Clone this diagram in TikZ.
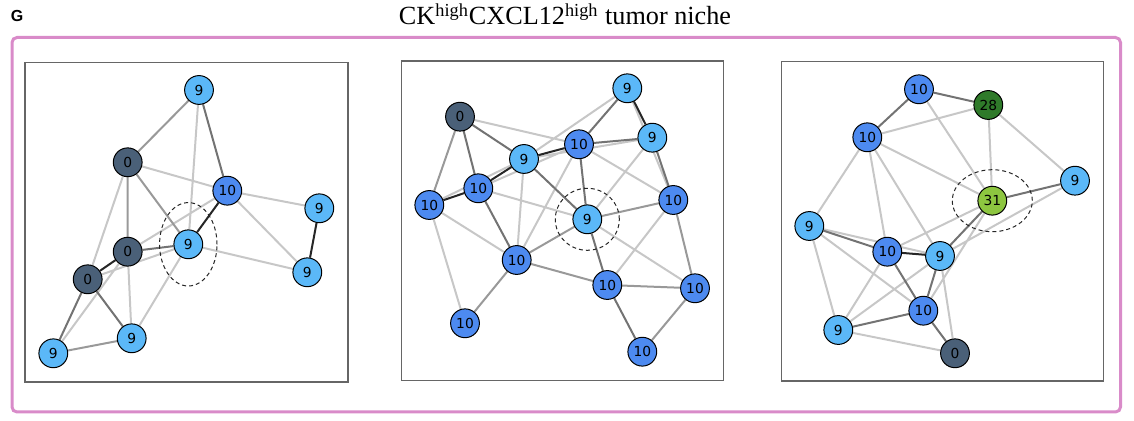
\documentclass[tikz,border=0pt]{standalone}
\usepackage{fontspec}
\setmainfont{Liberation Serif}
\newfontfamily\numfont{DejaVu Sans}
\newfontfamily\letterfont{Liberation Sans}
\usetikzlibrary{backgrounds}

\definecolor{cZero}{HTML}{4A6078}
\definecolor{cNine}{HTML}{5BB8F8}
\definecolor{cTen}{HTML}{4D8AF0}
\definecolor{cTwoEight}{HTML}{2F7A2A}
\definecolor{cThreeOne}{HTML}{8DC640}
\definecolor{frameRose}{HTML}{D98BC9}

\begin{document}
\begin{tikzpicture}[
  x=0.5pt,y=-0.5pt,
  cell/.style={circle,draw=black,line width=0.5pt,minimum size=14.4pt,inner sep=0pt,
    font=\numfont\fontsize{6.9}{7}\selectfont},
  zero/.style={cell,fill=cZero},
  nine/.style={cell,fill=cNine},
  ten/.style={cell,fill=cTen},
  tweight/.style={cell,fill=cTwoEight},
  thone/.style={cell,fill=cThreeOne},
  eA/.style={line width=1pt,draw=black!85},
  eB/.style={line width=1pt,draw=black!55},
  eC/.style={line width=1pt,draw=black!40},
  eD/.style={line width=1pt,draw=black!22},
  ring/.style={draw=black!85,line width=0.5pt,dash pattern=on 2pt off 1.5pt},
  panelbox/.style={draw=black!60,line width=0.55pt},
  frame/.style={draw=frameRose,line width=1.5pt,rounded corners=2.5pt},
  title/.style={font=\fontsize{13.1}{16}\selectfont},
  tag/.style={font=\letterfont\bfseries\fontsize{8}{9}\selectfont}
]
\useasboundingbox (0,0) rectangle (1134,421);

% -------------------------
% Header and frame
% -------------------------
\node[tag] (G) at (17,16) {G};
\node[title,anchor=base] (T) at (565,25) {CK\textsuperscript{high}CXCL12\textsuperscript{high} tumor niche};
\draw[frame] (12,37.5) rectangle (1120.5,412);

\draw[panelbox] (25,62.5) rectangle (348,382);
\draw[panelbox] (401.5,61) rectangle (723.5,380.5);
\draw[panelbox] (781.5,61.5) rectangle (1103.5,381);

% -------------------------
% Panel 1
% -------------------------
\node[nine] (a1) at (199,90) {9};
\node[zero] (a2) at (127.7,162.3) {0};
\node[ten]  (a3) at (227.3,190.7) {10};
\node[nine] (a4) at (319.3,208.3) {9};
\node[nine] (a5) at (188.3,244.3) {9};
\node[zero] (a6) at (127.7,251.7) {0};
\node[zero] (a7) at (87.7,279.3) {0};
\node[nine] (a8) at (307.3,272.3) {9};
\node[nine] (a9) at (131.7,338.3) {9};
\node[nine] (a10) at (53.3,353.3) {9};

\draw[ring] (a5.center) ellipse [x radius=14.35pt, y radius=20.85pt];

\begin{scope}[on background layer]
\draw[eD] (a1) -- (a5) (a2) -- (a3) (a2) -- (a7) (a3) -- (a4) (a3) -- (a8)
  (a3) -- (a6) (a5) -- (a7) (a5) -- (a8) (a5) -- (a9) (a10) -- (a6) (a6) -- (a9);
\draw[eC] (a1) -- (a2) (a2) -- (a5) (a2) -- (a6) (a10) -- (a9);
\draw[eB] (a1) -- (a3) (a5) -- (a6) (a7) -- (a9) (a7) -- (a10);
\draw[eA] (a3) -- (a5) (a4) -- (a8) (a6) -- (a7);
\end{scope}

% -------------------------
% Panel 2
% -------------------------
\node[zero] (b1) at (460,116.7) {0};
\node[nine] (b2) at (627.3,88.3) {9};
\node[nine] (b3) at (652.3,137.7) {9};
\node[ten]  (b4) at (579,144.3) {10};
\node[nine] (b5) at (524,159) {9};
\node[ten]  (b6) at (478.3,188.3) {10};
\node[ten]  (b7) at (429.3,205) {10};
\node[nine] (b8) at (587.3,219.3) {9};
\node[ten]  (b9) at (673.3,200) {10};
\node[ten]  (b10) at (516.7,260) {10};
\node[ten]  (b11) at (607.3,285) {10};
\node[ten]  (b12) at (695,288.3) {10};
\node[ten]  (b13) at (465,323.3) {10};
\node[ten]  (b14) at (642.3,351.7) {10};

\draw[ring] (b8.center) ellipse [x radius=16pt, y radius=15.5pt];

\begin{scope}[on background layer]
\draw[eD] (b1) -- (b4) (b2) -- (b5) (b2) -- (b9) (b5) -- (b3) (b6) -- (b4)
  (b7) -- (b5) (b6) -- (b8) (b7) -- (b10) (b7) -- (b13) (b5) -- (b10)
  (b4) -- (b9) (b4) -- (b10) (b3) -- (b8) (b8) -- (b12) (b9) -- (b11);
\draw[eC] (b1) -- (b7) (b8) -- (b9) (b8) -- (b10) (b9) -- (b12) (b10) -- (b11)
  (b10) -- (b13) (b11) -- (b12) (b12) -- (b14);
\draw[eB] (b1) -- (b5) (b1) -- (b6) (b2) -- (b4) (b4) -- (b3) (b6) -- (b10)
  (b5) -- (b8) (b4) -- (b8) (b3) -- (b9) (b8) -- (b11) (b11) -- (b14);
\draw[eA] (b2) -- (b3) (b7) -- (b6) (b6) -- (b5) (b5) -- (b4);
\end{scope}

% -------------------------
% Panel 3
% -------------------------
\node[ten]     (c1) at (919,89.3) {10};
\node[tweight] (c2) at (988.3,105) {28};
\node[ten]     (c3) at (867.3,137.3) {10};
\node[nine]    (c4) at (1075,180.7) {9};
\node[thone]   (c5) at (992.3,200.7) {31};
\node[nine]    (c6) at (809.3,226) {9};
\node[ten]     (c7) at (887.3,251.7) {10};
\node[nine]    (c8) at (940,256) {9};
\node[ten]     (c9) at (923.3,310.7) {10};
\node[nine]    (c10) at (838.3,330) {9};
\node[zero]    (c11) at (955,353.3) {0};

\draw[ring] (c5.center) ellipse [x radius=20pt, y radius=15.5pt];

\begin{scope}[on background layer]
\draw[eD] (c1) -- (c5) (c2) -- (c3) (c2) -- (c5) (c2) -- (c4) (c3) -- (c5)
  (c3) -- (c6) (c3) -- (c7) (c3) -- (c8) (c5) -- (c7) (c5) -- (c9) (c4) -- (c8)
  (c6) -- (c8) (c6) -- (c9) (c6) -- (c10) (c7) -- (c10) (c8) -- (c11)
  (c8) -- (c10) (c10) -- (c11);
\draw[eB] (c1) -- (c2) (c1) -- (c3) (c5) -- (c4) (c5) -- (c8) (c6) -- (c7)
  (c7) -- (c9) (c9) -- (c11) (c8) -- (c9) (c9) -- (c10);
\draw[eA] (c7) -- (c8);
\end{scope}

\end{tikzpicture}
\end{document}
